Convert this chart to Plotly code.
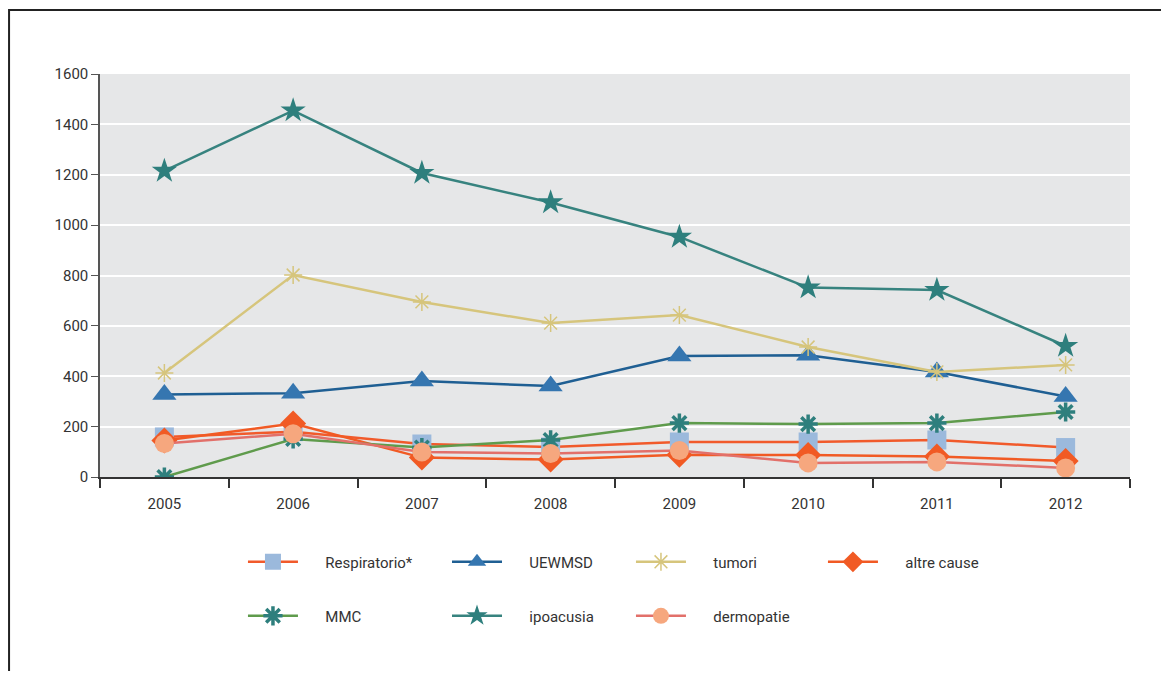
import plotly.graph_objects as go

years = ["2005", "2006", "2007", "2008", "2009", "2010", "2011", "2012"]

respiratorio = [159, 180, 131, 119, 139, 139, 147, 117]
uewmsd = [328, 333, 381, 361, 480, 483, 417, 320]
tumori = [413, 802, 695, 611, 643, 516, 417, 445]
altre_cause = [145, 212, 77, 69, 88, 87, 81, 64]
mmc = [0, 151, 117, 147, 214, 210, 214, 258]
ipoacusia = [1215, 1455, 1207, 1090, 953, 752, 742, 520]
dermopatie = [133, 172, 99, 93, 105, 56, 60, 36]

FONT = "Roboto, Arial, sans-serif"

series = [
    ("Respiratorio*", respiratorio, "#f15a2b", dict(symbol="square", size=19, color="#9bb9dc")),
    ("UEWMSD", uewmsd, "#1f5f93", dict(symbol="triangle-up", size=21, color="#3576b0")),
    ("tumori", tumori, "#d6c57c", dict(symbol="asterisk-open", size=15, color="#d6c57c",
                                       line=dict(color="#d0bf6e", width=1.5))),
    ("altre cause", altre_cause, "#f15a24", dict(symbol="diamond", size=20, color="#f15a24")),
    ("MMC", mmc, "#5f9b4c", dict(symbol="asterisk-open", size=16, color="#2e7f7d",
                                 line=dict(color="#2e7f7d", width=3.5))),
    ("ipoacusia", ipoacusia, "#37837f", dict(symbol="star", size=19, color="#2e7f7d")),
    ("dermopatie", dermopatie, "#e2706a", dict(symbol="circle", size=19, color="#f6a77e")),
]

# legend slot for each series (column x in paper units, row y in paper units)
legend_x = [0.1388, 0.3369, 0.5155, 0.7019, 0.1388, 0.3369, 0.5155]
legend_y = [-0.211, -0.211, -0.211, -0.211, -0.345, -0.345, -0.345]

fig = go.Figure()
legends = {}
for i, (name, vals, lc, mk) in enumerate(series):
    key = "legend" if i == 0 else f"legend{i + 1}"
    fig.add_trace(go.Scatter(
        x=years, y=vals, name="      " + name, mode="lines+markers",
        line=dict(color=lc, width=2.5), marker=mk, legend=key,
    ))
    legends[key] = dict(orientation="h", xanchor="left", yanchor="middle",
                        x=legend_x[i], y=legend_y[i], itemwidth=50,
                        bgcolor="rgba(0,0,0,0)", font=dict(family=FONT, size=15, color="#333333"))

fig.update_layout(
    width=1153, height=663,
    margin=dict(l=92, r=31, t=66, b=194, autoexpand=False),
    paper_bgcolor="white", plot_bgcolor="#e6e7e8",
    font=dict(family=FONT, size=15, color="#333333"),
    xaxis=dict(
        type="category", tickson="boundaries", ticks="outside", ticklen=9,
        tickcolor="#333333", tickwidth=1.5, showline=True, linecolor="#333333", linewidth=1.5,
        showgrid=False, range=[-0.5, 7.5], tickfont=dict(size=15, color="#333333"),
        ticklabelstandoff=12,
    ),
    yaxis=dict(
        range=[0, 1600], dtick=200, ticks="outside", ticklen=7, tickcolor="#555555",
        showline=True, linecolor="#555555", linewidth=1.5, gridcolor="white", gridwidth=2,
        zeroline=False, tickfont=dict(size=15, color="#333333"),
    ),
    shapes=[dict(type="rect", xref="paper", yref="paper", x0=-0.0883, x1=1.06, y0=-0.6, y1=1.1588,
                 line=dict(color="#222222", width=2), fillcolor="rgba(0,0,0,0)", layer="below")],
    showlegend=True,
    **legends,
)

fig.write_html("out.html")
